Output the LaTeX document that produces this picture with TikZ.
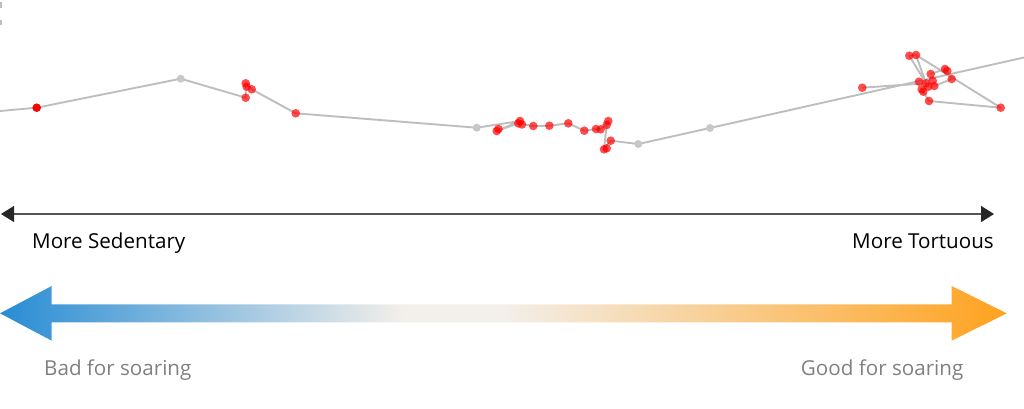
\documentclass[tikz,border=0pt]{standalone}
\usepackage{fontspec}
\setmainfont{Open Sans}
\usepackage{tikz}
\usetikzlibrary{arrows.meta}
\definecolor{trackgray}{RGB}{190,190,190}
\definecolor{axisgray}{RGB}{85,85,85}
\definecolor{labelgray}{RGB}{128,128,128}
\definecolor{soarblue}{RGB}{40,140,212}
\definecolor{soarmid}{RGB}{243,239,234}
\definecolor{soarorange}{RGB}{255,162,30}
\pgfdeclarehorizontalshading{soaring}{100bp}{color(0bp)=(soarblue); color(25bp)=(soarblue); color(45bp)=(soarmid); color(50bp)=(soarmid); color(75bp)=(soarorange); color(100bp)=(soarorange)}

\begin{document}
\begin{tikzpicture}[x=1pt,y=-1pt,
  track/.style={draw=trackgray,line width=1.9pt,line join=round},
  gpsfix/.style={fill=red,fill opacity=0.7,draw=none},
  waypoint/.style={fill=trackgray!85,draw=none},
  axislabel/.style={font=\fontsize{20.6}{24}\selectfont,text=black,inner sep=0pt},
  soarlabel/.style={font=\fontsize{20.6}{24}\selectfont,text=labelgray,inner sep=0pt}
  ]
  \useasboundingbox (0,0) rectangle (1024,408);
  % stray marks at the top edge
  \fill[trackgray] (0,2) rectangle (1.5,8);
  \fill[trackgray] (0,20) rectangle (1.5,25);
  % track
  \draw[track] (0,111) -- (36.7,107.7) -- (180.7,78.7) -- (245.7,97.7) -- (245.7,83.3)
    -- (251.7,89.3) -- (295.7,113.3) -- (476.7,127.7) -- (520,121) -- (496.7,131)
    -- (518.3,123.3) -- (533.3,126) -- (549.3,125.7) -- (568.3,123.3) -- (584.3,130.7)
    -- (596,129) -- (600.7,129.3) -- (608.3,121) -- (606.7,125) -- (604,149.3)
    -- (610.7,140.7) -- (638.3,144) -- (710,128) -- (1024,57.5);
  \draw[track] (862.3,87.7) -- (926,83.3) -- (909.3,55.7) -- (916,55) -- (926,83.3);
  \draw[track] (916,55) -- (1000.7,107.7) -- (929,101) -- (921.7,89.3);
  \draw[track] (930.7,74) -- (945,69) -- (951.7,79) -- (934.3,86);
  \foreach \x/\y in {180.7/78.7, 476.7/127.7, 638.3/144, 710/128}
    \fill[waypoint] (\x,\y) circle (4);
  \fill[red] (36.7,107.7) circle (4.3);
  \foreach \x/\y in {245.7/83.3, 246.7/86.7, 251.7/89.3, 245.7/97.7, 295.7/113.3,
      496.7/131, 498.5/129, 520/121, 518.3/123.3, 522/124.5, 533.3/126, 549.3/125.7,
      568.3/123.3, 584.3/130.7, 596/129, 600.7/129.3, 608.3/121, 606.7/125,
      610.7/140.7, 606.7/148.3, 604/149.3, 862.3/87.7, 909.3/55.7, 916/55,
      930.7/74, 945/69, 947.3/71, 951.7/79, 919/81.7, 926/83.3, 932.7/80.7,
      934.3/86, 921.7/89.3, 923.3/91.7, 928.3/86.7, 929/101, 1000.7/107.7}
    \fill[gpsfix] (\x,\y) circle (4.3);
  % tortuosity axis
  \coordinate (axisL) at (1,214);
  \coordinate (axisR) at (994,214);
  \draw[axisgray,line width=1.2pt,{Triangle[length=13pt,width=16pt,fill=black!85,color=black!85]}-{Triangle[length=13pt,width=16pt,fill=black!85,color=black!85]}] (axisL) -- (axisR);
  \node[axislabel,anchor=base west] (sedentary) at (32,248) {More Sedentary};
  \node[axislabel,anchor=base east] (tortuous) at (994,248) {More Tortuous};
  % soaring arrow
  \shade[shading=soaring] (0,313.3) -- (51.7,286) -- (51.7,304.3) -- (951.7,304.3)
    -- (951.7,286) -- (1006.7,313.3) -- (951.7,340.7) -- (951.7,322.3)
    -- (51.7,322.3) -- (51.7,340.7) -- cycle;
  \node[soarlabel,anchor=base west] (bad) at (44,375) {Bad for soaring};
  \node[soarlabel,anchor=base east] (good) at (963.5,375) {Good for soaring};
\end{tikzpicture}
\end{document}
